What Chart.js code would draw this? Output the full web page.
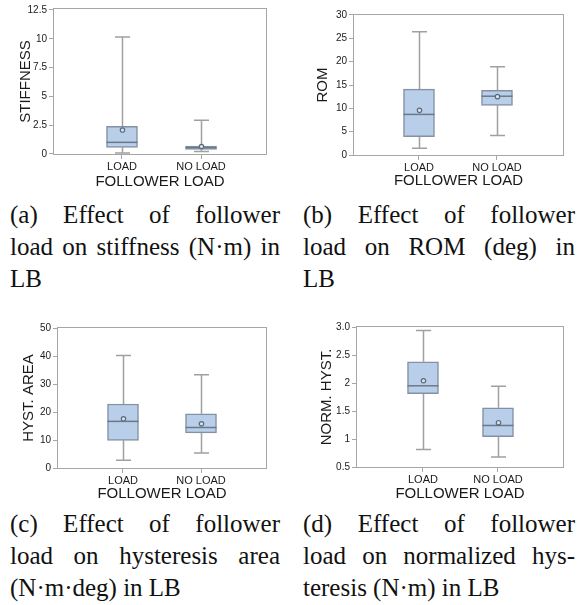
<!DOCTYPE html>
<html><head><meta charset="utf-8">
<script src="https://cdn.jsdelivr.net/npm/chart.js@4.4.0/dist/chart.umd.min.js"></script>
<style>
html,body{margin:0;padding:0;background:#fff;}
#wrap{position:relative;width:577px;height:605px;overflow:hidden;background:#fff;}
.panel{position:absolute;}
.panel canvas{display:block;}
.cap{position:absolute;font-family:"Liberation Serif","Times New Roman",serif;font-size:25px;line-height:32px;color:#111;}
.cap div{white-space:nowrap;}
.cap .j{text-align:justify;text-align-last:justify;}
.cap .l{text-align:left;}
</style></head><body>
<div id="wrap">
  <div class="panel" style="left:0;top:0"><canvas id="c1" width="290" height="195"></canvas></div>
  <div class="panel" style="left:290px;top:0"><canvas id="c2" width="287" height="195"></canvas></div>
  <div class="panel" style="left:0;top:315px"><canvas id="c3" width="290" height="190"></canvas></div>
  <div class="panel" style="left:290px;top:315px"><canvas id="c4" width="287" height="190"></canvas></div>

  <div class="cap" style="left:10px;top:199px;width:270px">
    <div class="j">(a) Effect of follower</div>
    <div class="j">load on stiffness (N·m) in</div>
    <div class="l">LB</div>
  </div>
  <div class="cap" style="left:303px;top:199px;width:272px">
    <div class="j">(b) Effect of follower</div>
    <div class="j">load on ROM (deg) in</div>
    <div class="l">LB</div>
  </div>
  <div class="cap" style="left:10px;top:508px;width:270px">
    <div class="j">(c) Effect of follower</div>
    <div class="j">load on hysteresis area</div>
    <div class="l">(N·m·deg) in LB</div>
  </div>
  <div class="cap" style="left:303px;top:508px;width:272px">
    <div class="j">(d) Effect of follower</div>
    <div class="j">load on normalized hys-</div>
    <div class="l">teresis (N·m) in LB</div>
  </div>
</div>
<script>
// ---- data ----
const CATEGORIES = ['LOAD', 'NO LOAD'];
const X_TITLE = 'FOLLOWER LOAD';

// (a) stiffness
const STIFF_MIN  = [0.08, 0.22];
const STIFF_Q1   = [0.58, 0.40];
const STIFF_MED  = [1.01, 0.55];
const STIFF_Q3   = [2.40, 0.68];
const STIFF_MAX  = [10.15, 2.92];
const STIFF_MEAN = [2.08, 0.65];
const STIFF_TICKS = [0, 2.5, 5, 7.5, 10, 12.5];
const STIFF_TICK_LABELS = ['0', '2.5', '5', '7.5', '10', '12.5'];

// (b) ROM
const ROM_MIN  = [1.44, 4.2];
const ROM_Q1   = [3.93, 10.6];
const ROM_MED  = [8.7, 12.6];
const ROM_Q3   = [14.1, 13.86];
const ROM_MAX  = [26.4, 18.9];
const ROM_MEAN = [9.57, 12.5];
const ROM_TICKS = [0, 5, 10, 15, 20, 25, 30];
const ROM_TICK_LABELS = ['0', '5', '10', '15', '20', '25', '30'];

// (c) hysteresis area
const HYST_MIN  = [2.86, 5.5];
const HYST_Q1   = [10.0, 12.7];
const HYST_MED  = [16.8, 14.6];
const HYST_Q3   = [23.0, 19.5];
const HYST_MAX  = [40.4, 33.5];
const HYST_MEAN = [17.7, 15.95];
const HYST_TICKS = [0, 10, 20, 30, 40, 50];
const HYST_TICK_LABELS = ['0', '10', '20', '30', '40', '50'];

// (d) normalized hysteresis
const NORM_MIN  = [0.82, 0.685];
const NORM_Q1   = [1.82, 1.05];
const NORM_MED  = [1.96, 1.25];
const NORM_Q3   = [2.39, 1.565];
const NORM_MAX  = [2.95, 1.95];
const NORM_MEAN = [2.05, 1.30];
const NORM_TICKS = [0.5, 1, 1.5, 2, 2.5, 3];
const NORM_TICK_LABELS = ['0.5', '1', '1.5', '2', '2.5', '3.0'];

// ---- styles ----
const BOX_FILL = '#b9cee8';
const BOX_EDGE = '#8391a5';
const WHISK = '#a0a0a0';
const MED_COL = '#6a7989';
const FRAME = '#a6a6a6';
const TXT = '#1a1a1a';
const SANS = '"Liberation Sans", Arial, Helvetica, sans-serif';

function boxPlugin(s) {
  return {
    id: 'boxExtras',
    beforeDatasetsDraw(chart) {
      const {ctx, chartArea: a, scales: {x, y}} = chart;
      ctx.save();
      ctx.strokeStyle = FRAME; ctx.lineWidth = 1;
      ctx.strokeRect(Math.round(a.left) + 0.5, Math.round(a.top) + 0.5,
                     Math.round(a.right - a.left) - 1, Math.round(a.bottom - a.top) - 1);
      ctx.strokeStyle = WHISK; ctx.lineWidth = 1.5;
      const capHalf = 7.5;
      CATEGORIES.forEach((c, i) => {
        const px = Math.round(x.getPixelForValue(i + 1)) + 0.5;
        const yMin = y.getPixelForValue(s.min[i]);
        const yMax = y.getPixelForValue(s.max[i]);
        const yQ1 = y.getPixelForValue(s.q1[i]);
        const yQ3 = y.getPixelForValue(s.q3[i]);
        ctx.beginPath();
        ctx.moveTo(px, yMin); ctx.lineTo(px, yQ1);
        ctx.moveTo(px, yQ3); ctx.lineTo(px, yMax);
        ctx.moveTo(px - capHalf, yMin); ctx.lineTo(px + capHalf, yMin);
        ctx.moveTo(px - capHalf, yMax); ctx.lineTo(px + capHalf, yMax);
        ctx.stroke();
      });
      ctx.restore();
    },
    afterDatasetsDraw(chart) {
      const {ctx, scales: {x, y}} = chart;
      const meta = chart.getDatasetMeta(0);
      ctx.save();
      CATEGORIES.forEach((c, i) => {
        const bar = meta.data[i];
        const px = x.getPixelForValue(i + 1);
        const half = bar.width / 2;
        const ym = y.getPixelForValue(s.med[i]);
        ctx.strokeStyle = MED_COL; ctx.lineWidth = 1.5;
        ctx.beginPath();
        ctx.moveTo(px - half, ym); ctx.lineTo(px + half, ym);
        ctx.stroke();
        const ymean = y.getPixelForValue(s.mean[i]);
        ctx.beginPath();
        ctx.arc(px + 0.5, ymean, 2.2, 0, Math.PI * 2);
        ctx.fillStyle = '#d6e2f1'; ctx.fill();
        ctx.lineWidth = 1.2; ctx.strokeStyle = '#5d6b7b'; ctx.stroke();
      });
      ctx.restore();
    }
  };
}

function makePanel(id, s, L) {
  new Chart(document.getElementById(id), {
    type: 'bar',
    data: {
      datasets: [{
        data: CATEGORIES.map((c, i) => ({x: i + 1, y: [s.q1[i], s.q3[i]]})),
        backgroundColor: BOX_FILL,
        borderColor: BOX_EDGE,
        borderWidth: 1.5,
        borderSkipped: false,
        barThickness: 31
      }]
    },
    options: {
      responsive: false,
      animation: false,
      events: [],
      layout: {padding: {left: 0, right: L.right, top: L.top, bottom: 0}},
      plugins: {legend: {display: false}, tooltip: {enabled: false}},
      scales: {
        x: {
          type: 'linear', min: L.xmin, max: L.xmax, offset: false,
          afterBuildTicks: sc => { sc.ticks = CATEGORIES.map((c, i) => ({value: i + 1})); },
          afterFit: sc => { sc.height = L.xh; },
          ticks: {
            autoSkip: false, maxRotation: 0, padding: 1,
            color: TXT, font: {family: SANS, size: 11},
            callback: v => CATEGORIES[Math.round(v) - 1]
          },
          grid: {offset: false, drawOnChartArea: false, drawTicks: true, tickLength: 4, color: FRAME},
          border: {display: false},
          title: {display: true, text: X_TITLE, color: TXT,
                  font: {family: SANS, size: 15}, padding: {top: 0, bottom: L.xtp}}
        },
        y: {
          type: 'linear', min: L.ymin, max: L.ymax,
          afterBuildTicks: sc => { sc.ticks = s.ticks.map(v => ({value: v})); },
          afterFit: sc => { sc.width = L.yw; },
          ticks: {
            autoSkip: false, padding: 2,
            color: TXT, font: {family: SANS, size: 10},
            callback: (v) => s.labels[s.ticks.indexOf(v)]
          },
          grid: {drawOnChartArea: false, drawTicks: true, tickLength: 4, color: FRAME},
          border: {display: false},
          title: {display: true, text: s.title, color: TXT,
                  font: {family: SANS, size: 15}, padding: {top: L.ytp, bottom: 0}}
        }
      }
    },
    plugins: [boxPlugin(s)]
  });
}

makePanel('c1', {min: STIFF_MIN, q1: STIFF_Q1, med: STIFF_MED, q3: STIFF_Q3, max: STIFF_MAX, mean: STIFF_MEAN,
                 ticks: STIFF_TICKS, labels: STIFF_TICK_LABELS, title: 'STIFFNESS'},
  {right: 23, top: 8, yw: 53, xh: 40, xmin: 0.127, xmax: 2.835, ymin: -0.087, ymax: 12.67, xtp: 4, ytp: 17});
makePanel('c2', {min: ROM_MIN, q1: ROM_Q1, med: ROM_MED, q3: ROM_Q3, max: ROM_MAX, mean: ROM_MEAN,
                 ticks: ROM_TICKS, labels: ROM_TICK_LABELS, title: 'ROM'},
  {right: 13, top: 14, yw: 63, xh: 39, xmin: 0.154, xmax: 2.859, ymin: -0.21, ymax: 30.21, xtp: 5, ytp: 24});
makePanel('c3', {min: HYST_MIN, q1: HYST_Q1, med: HYST_MED, q3: HYST_Q3, max: HYST_MAX, mean: HYST_MEAN,
                 ticks: HYST_TICKS, labels: HYST_TICK_LABELS, title: 'HYST. AREA'},
  {right: 23, top: 12, yw: 57, xh: 36, xmin: 0.154, xmax: 2.846, ymin: -0.25, ymax: 50.57, xtp: 2, ytp: 20});
makePanel('c4', {min: NORM_MIN, q1: NORM_Q1, med: NORM_MED, q3: NORM_Q3, max: NORM_MAX, mean: NORM_MEAN,
                 ticks: NORM_TICKS, labels: NORM_TICK_LABELS, title: 'NORM. HYST.'},
  {right: 13, top: 11, yw: 66, xh: 37, xmin: 0.107, xmax: 2.88, ymin: 0.489, ymax: 3.03, xtp: 2, ytp: 28});
</script>
</body></html>
